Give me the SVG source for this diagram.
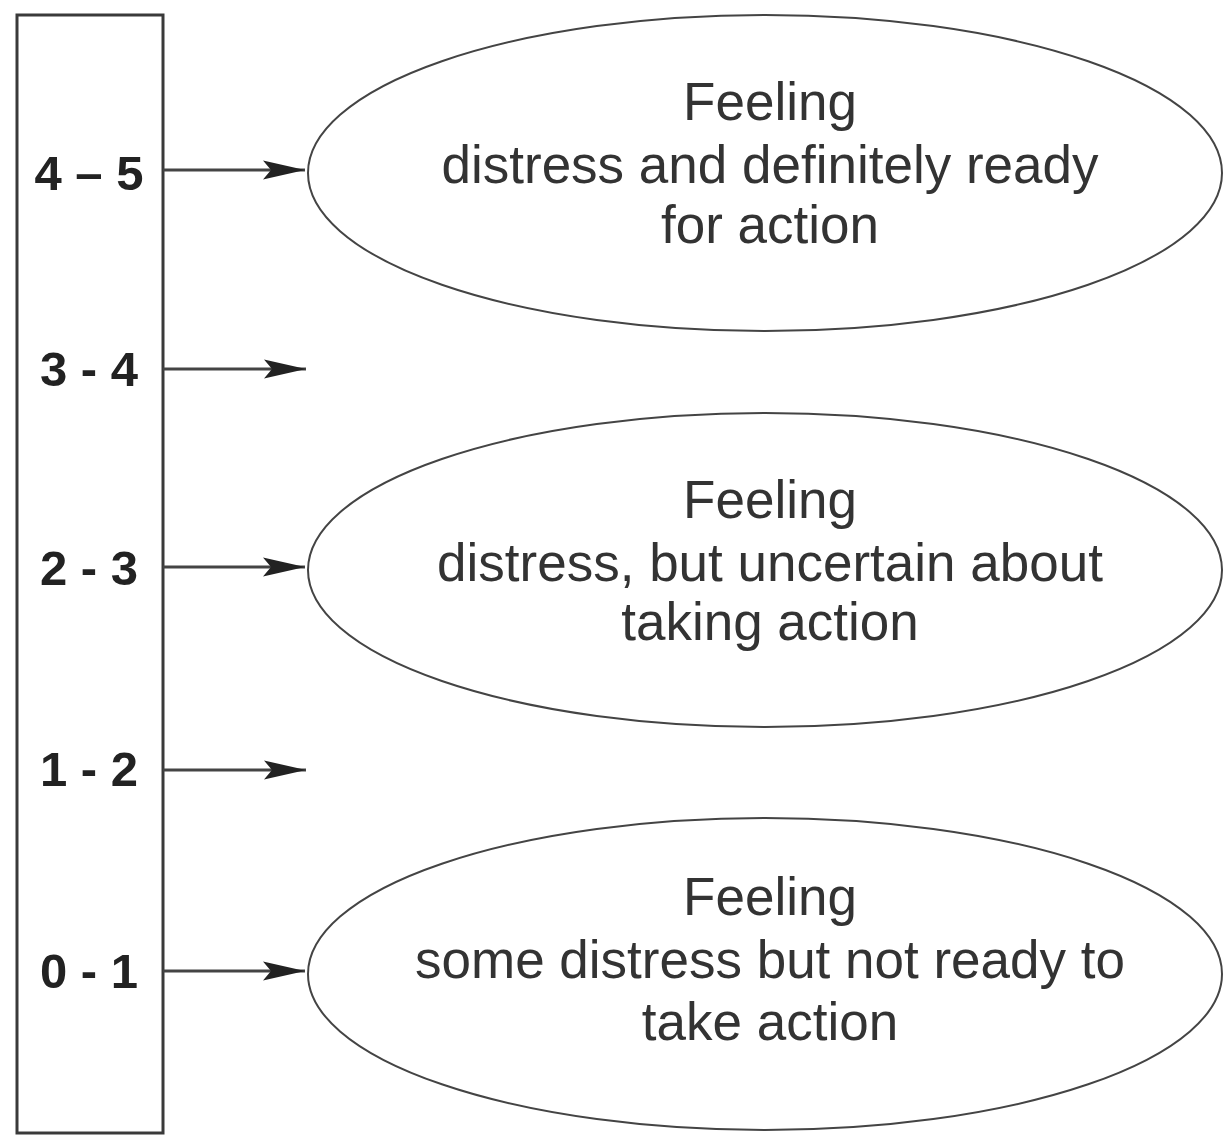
<svg xmlns="http://www.w3.org/2000/svg" width="1224" height="1135" viewBox="0 0 1224 1135">
<defs>
<style>
.box{fill:none;stroke:#3a3a3a;stroke-width:3}
.oval{fill:none;stroke:#444;stroke-width:2}
.lbl{font-family:"Liberation Sans",Arial,sans-serif;font-weight:bold;font-size:49px;fill:#222;text-anchor:middle}
.txt{font-family:"Liberation Sans",Arial,sans-serif;font-size:53px;fill:#333;text-anchor:middle}
.con{stroke:#444;stroke-width:3;fill:none}
</style>
<marker id="ah" markerUnits="userSpaceOnUse" markerWidth="46" markerHeight="24" viewBox="0 0 46 24" refX="44" refY="12" orient="auto">
<path d="M44,12 L2,2.5 L10,12 L2,21.5 Z" fill="#222"/>
</marker>
</defs>
<rect width="1224" height="1135" fill="#fff"/>
<g id="scale">
<rect class="box" x="17" y="15" width="146" height="1118"/>
<text class="lbl" x="89" y="190">4 – 5</text>
<text class="lbl" x="89" y="386">3 - 4</text>
<text class="lbl" x="89" y="585">2 - 3</text>
<text class="lbl" x="89" y="786">1 - 2</text>
<text class="lbl" x="89" y="988">0 - 1</text>
</g>
<g id="connectors">
<line class="con" x1="163" y1="170" x2="305" y2="170" marker-end="url(#ah)"/>
<line class="con" x1="163" y1="369" x2="306" y2="369" marker-end="url(#ah)"/>
<line class="con" x1="163" y1="567" x2="305" y2="567" marker-end="url(#ah)"/>
<line class="con" x1="163" y1="770" x2="306" y2="770" marker-end="url(#ah)"/>
<line class="con" x1="163" y1="971" x2="305" y2="971" marker-end="url(#ah)"/>
</g>
<g id="node-ready">
<ellipse class="oval" cx="765" cy="173" rx="457" ry="158"/>
<text class="txt" x="770" y="120">Feeling</text>
<text class="txt" x="770" y="183">distress and definitely ready</text>
<text class="txt" x="770" y="243">for action</text>
</g>
<g id="node-uncertain">
<ellipse class="oval" cx="765" cy="570" rx="457" ry="157"/>
<text class="txt" x="770" y="518">Feeling</text>
<text class="txt" x="770" y="581">distress, but uncertain about</text>
<text class="txt" x="770" y="640">taking action</text>
</g>
<g id="node-notready">
<ellipse class="oval" cx="765" cy="974" rx="457" ry="156"/>
<text class="txt" x="770" y="915">Feeling</text>
<text class="txt" x="770" y="978">some distress but not ready to</text>
<text class="txt" x="770" y="1040">take action</text>
</g>
</svg>
